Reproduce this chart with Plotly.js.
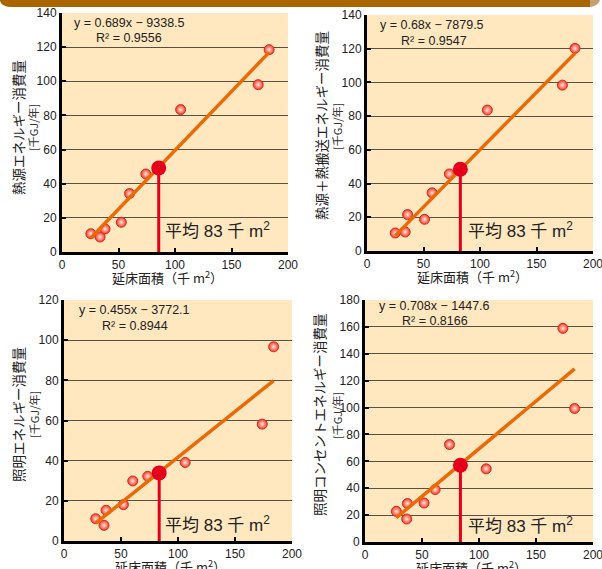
<!DOCTYPE html>
<html>
<head>
<meta charset="utf-8">
<script src="https://cdn.plot.ly/plotly-3.0.1.min.js"></script>
<style>html,body{margin:0;padding:0;background:#fff;}#chart{width:602px;height:569px;}</style>
</head>
<body>
<div id="chart"></div>
<script>
// ---- data (千 m2, 千 GJ/年) ----
const area1 = [25.5, 33.7, 38.1, 52.5, 59.8, 74.2, 105.0, 173.6, 183.3];
const heat1 = [10.7, 8.8, 13.5, 17.4, 34.2, 45.7, 83.4, 98.0, 118.5];
const avg1 = [85.6, 49.2];
const fit1 = [0.689, -9.3385];

const area2 = [25.0, 33.8, 35.9, 50.9, 57.6, 72.9, 106.5, 172.9, 184.1];
const heat2 = [10.7, 11.3, 21.6, 18.8, 34.5, 45.7, 83.6, 98.4, 120.2];
const avg2 = [82.6, 48.5];
const fit2 = [0.68, -7.8795];

const area3 = [27.8, 35.1, 36.9, 52.1, 60.3, 73.5, 106.3, 173.9, 183.9];
const light3 = [11.1, 7.8, 15.3, 18.1, 29.9, 32.2, 39.1, 58.2, 96.7];
const avg3 = [83.5, 33.9];
const fit3 = [0.455, -3.7721];

const area4 = [27.5, 36.6, 37.2, 51.8, 61.5, 74.1, 106.3, 173.6, 183.9];
const plug4 = [22.8, 17.1, 28.6, 29.0, 39.0, 72.5, 54.4, 158.9, 99.3];
const avg4 = [83.7, 57.1];
const fit4 = [0.708, -1.4476];

const yTitles = ['熱源エネルギー消費量', '熱源＋熱搬送エネルギー消費量', '照明エネルギー消費量', '照明コンセントエネルギー消費量'];
const unitLabel = '[千GJ/年]';
const eqTexts = ['y = 0.689x − 9338.5', 'y = 0.68x − 7879.5', 'y = 0.455x − 3772.1', 'y = 0.708x − 1447.6'];
const r2Texts = ['R² = 0.9556', 'R² = 0.9547', 'R² = 0.8944', 'R² = 0.8166'];
const avgLabel = '平均 83 千 m<sup>2</sup>';
const xTitle = '延床面積（千 m<sup>2</sup>）';
const yRanges = [[0, 140], [0, 140], [0, 120], [0, 180]];
const yTickSteps = [20, 20, 20, 20];

const W = 602, H = 569;
const px = v => v / W;
const py = v => 1 - v / H;

const panels = [
  {x: area1, y: heat1, avg: avg1, fit: fit1, dom: [[62, 288], [13, 252]], ytx: [18, 33], yty: 128, eq: [72, 23], r2: [94, 38], al: [163, 230]},
  {x: area2, y: heat2, avg: avg2, fit: fit2, dom: [[367, 593], [15, 251]], ytx: [321, 337], yty: 126, eq: [378, 25], r2: [399, 41], al: [466, 230]},
  {x: area3, y: light3, avg: avg3, fit: fit3, dom: [[64, 292], [300, 541]], ytx: [18, 34], yty: 415, eq: [77, 310], r2: [100, 326], al: [163, 524]},
  {x: area4, y: plug4, avg: avg4, fit: fit4, dom: [[365, 593], [300, 542]], ytx: [319, 337], yty: 415, eq: [377, 306], r2: [400, 321], al: [466, 525]}
];

const FONT = 'Liberation Sans, Arial, Noto Sans CJK JP, sans-serif';
const JFONT = 'Noto Sans CJK JP, Liberation Sans, sans-serif';
const traces = [];
const layout = {
  width: W, height: H,
  margin: {l: 0, r: 0, t: 0, b: 0},
  paper_bgcolor: '#ffffff',
  plot_bgcolor: '#FFE8C0',
  showlegend: false,
  font: {family: FONT, size: 12, color: '#222'},
  annotations: [],
  shapes: [
    {type: 'path', xref: 'paper', yref: 'paper', layer: 'above',
     path: `M ${px(0)} ${py(0)} L ${px(590)} ${py(0)} L ${px(590)} ${py(7)} L ${px(12)} ${py(7)} Q ${px(2)} ${py(7)} ${px(0)} ${py(1)} Z`,
     fillcolor: '#A86500', line: {width: 0}},
    {type: 'path', xref: 'paper', yref: 'paper', layer: 'above',
     path: `M ${px(590)} ${py(0)} L ${px(600)} ${py(0)} Q ${px(598)} ${py(6)} ${px(590)} ${py(7)} Z`,
     fillcolor: '#C8A070', line: {width: 0}}
  ]
};

panels.forEach((p, i) => {
  const n = i + 1;
  const xa = 'x' + (n === 1 ? '' : n), ya = 'y' + (n === 1 ? '' : n);
  const xk = 'xaxis' + (n === 1 ? '' : n), yk = 'yaxis' + (n === 1 ? '' : n);
  // data points
  traces.push({x: p.x, y: p.y, xaxis: xa, yaxis: ya, type: 'scatter', mode: 'markers',
    marker: {size: 10, color: '#EE3A2A', line: {color: '#E02818', width: 1},
             gradient: {type: 'radial', color: '#FFE6D8'}}, hoverinfo: 'x+y'});
  // trend line over data extent
  const xmin = Math.min(...p.x), xmax = Math.max(...p.x);
  traces.push({x: [xmin, xmax], y: [p.fit[0] * xmin + p.fit[1], p.fit[0] * xmax + p.fit[1]],
    xaxis: xa, yaxis: ya, type: 'scatter', mode: 'lines',
    line: {color: '#EA6A08', width: 3.5}, hoverinfo: 'skip'});
  // average drop line
  traces.push({x: [p.avg[0], p.avg[0]], y: [0, p.avg[1]], xaxis: xa, yaxis: ya, type: 'scatter', mode: 'lines',
    line: {color: '#E0001C', width: 3}, hoverinfo: 'skip'});
  traces.push({x: [p.avg[0]], y: [p.avg[1]], xaxis: xa, yaxis: ya, type: 'scatter', mode: 'markers',
    marker: {size: 15, color: '#E4001A'}, hoverinfo: 'x+y'});

  layout[xk] = {domain: [px(p.dom[0][0]), px(p.dom[0][1])], anchor: ya, range: [0, 200], dtick: 50,
    showline: true, linecolor: '#000', linewidth: 3, ticks: 'inside', ticklen: 4, tickwidth: 2, tickcolor: '#000',
    showgrid: false, zeroline: false, fixedrange: true, ticklabeloverflow: 'allow',
    tickfont: {size: 12, color: '#222'}};
  layout[yk] = {domain: [py(p.dom[1][1]), py(p.dom[1][0])], anchor: xa, range: yRanges[i], dtick: yTickSteps[i],
    showline: true, linecolor: '#000', linewidth: 3, ticks: 'inside', ticklen: 4, tickwidth: 2, tickcolor: '#000',
    showgrid: true, gridcolor: '#5a5040', gridwidth: 1, zeroline: false, fixedrange: true,
    tickfont: {size: 12, color: '#222'}};

  const A = layout.annotations;
  A.push({xref: 'paper', yref: 'paper', x: px(p.ytx[0]), y: py(p.yty), text: yTitles[i], textangle: -90,
    showarrow: false, xanchor: 'center', yanchor: 'middle', font: {family: JFONT, size: 13.5, color: '#222'}});
  A.push({xref: 'paper', yref: 'paper', x: px(p.ytx[1]), y: py(p.yty), text: unitLabel, textangle: -90,
    showarrow: false, xanchor: 'center', yanchor: 'middle', font: {family: JFONT, size: 11, color: '#333'}});
  A.push({xref: 'paper', yref: 'paper', x: px(p.eq[0]), y: py(p.eq[1]), text: eqTexts[i],
    showarrow: false, xanchor: 'left', yanchor: 'middle', font: {size: 12.5, color: '#222'}});
  A.push({xref: 'paper', yref: 'paper', x: px(p.r2[0]), y: py(p.r2[1]), text: r2Texts[i],
    showarrow: false, xanchor: 'left', yanchor: 'middle', font: {size: 12.5, color: '#222'}});
  A.push({xref: 'paper', yref: 'paper', x: px(p.al[0]), y: py(p.al[1]), text: avgLabel,
    showarrow: false, xanchor: 'left', yanchor: 'middle', font: {family: FONT, size: 17, color: '#222'}});
  const cx = (p.dom[0][0] + p.dom[0][1]) / 2 - 8;
  A.push({xref: 'paper', yref: 'paper', x: px(cx), y: py(p.dom[1][1] + 25), text: xTitle,
    showarrow: false, xanchor: 'center', yanchor: 'middle', font: {family: JFONT, size: 13, color: '#222'}});
});

Plotly.newPlot('chart', traces, layout, {displayModeBar: false, staticPlot: true});
</script>
</body>
</html>
